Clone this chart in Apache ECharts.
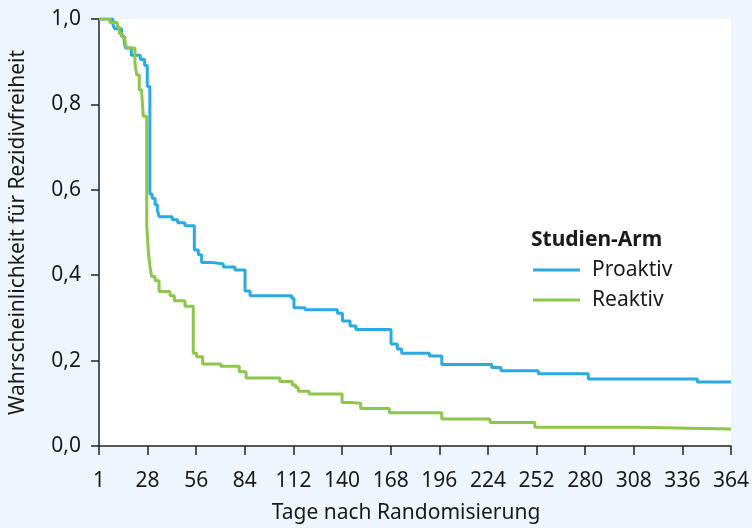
<!DOCTYPE html>
<html>
<head>
<meta charset="utf-8">
<script src="https://cdn.jsdelivr.net/npm/echarts@6/dist/echarts.min.js"></script>
<style>
html,body{margin:0;padding:0;background:#eef5fc;}
#chart{width:752px;height:528px;}
</style>
</head>
<body>
<div id="chart"></div>
<script>
const proaktivDays = [0, 8, 9, 13, 14.5, 15.2, 18.6, 23.8, 26.3, 27.8, 29.3, 30.6, 32.3, 33.6, 34.6, 42.2, 45.3, 49.5, 54.9, 57.2, 59.1, 64.9, 71.6, 78.3, 84.1, 87, 111, 112.3, 118.7, 137.3, 140.2, 144.6, 148, 168.2, 171.8, 174.3, 190.3, 197.4, 226.2, 231.5, 253, 281.8, 344.6, 364];
const proaktivSurv = [1.0, 0.987, 0.977, 0.959, 0.948, 0.932, 0.915, 0.905, 0.891, 0.842, 0.590, 0.580, 0.565, 0.553, 0.537, 0.530, 0.523, 0.516, 0.459, 0.448, 0.430, 0.426, 0.419, 0.412, 0.363, 0.352, 0.346, 0.324, 0.319, 0.311, 0.293, 0.281, 0.273, 0.239, 0.227, 0.217, 0.211, 0.191, 0.184, 0.176, 0.169, 0.157, 0.150, 0.150];
const reaktivDays = [0, 6.3, 10.5, 11.7, 13.4, 15, 15.9, 20.7, 21.7, 23.2, 24.6, 25.5, 27.5, 28.4, 29.4, 30.3, 32.3, 34.6, 40.9, 43.4, 49.5, 54.3, 56.2, 59.7, 70.1, 80.8, 84.7, 104.2, 111.3, 113.3, 114.8, 121, 140, 145, 150.7, 167.2, 197.4, 225.2, 251, 309.5, 364];
const reaktivSurv = [1.0, 0.992, 0.981, 0.966, 0.958, 0.946, 0.932, 0.897, 0.869, 0.834, 0.827, 0.772, 0.516, 0.455, 0.420, 0.397, 0.387, 0.362, 0.352, 0.340, 0.327, 0.217, 0.209, 0.192, 0.187, 0.174, 0.159, 0.151, 0.143, 0.137, 0.128, 0.122, 0.102, 0.100, 0.088, 0.078, 0.063, 0.055, 0.044, 0.040, 0.040];
const seriesNames = ['Proaktiv', 'Reaktiv'];
const xTickLabels = ['1', '28', '56', '84', '112', '140', '168', '196', '224', '252', '280', '308', '336', '364'];
const xAxisTitle = 'Tage nach Randomisierung';
const yAxisTitle = 'Wahrscheinlichkeit für Rezidivfreiheit';
const legendTitle = 'Studien-Arm';

const FONT = 'Noto Sans';
const TXT = '#1a1a1a';
const zip = (a, b) => a.map((d, i) => [d, b[i]]);

const chart = echarts.init(document.getElementById('chart'), null, {renderer: 'canvas'});
chart.setOption({
  backgroundColor: '#eef5fc',
  animation: false,
  textStyle: {fontFamily: FONT},
  title: {
    text: legendTitle,
    left: 531, top: 230, padding: 0,
    textStyle: {fontFamily: FONT, fontSize: 21, fontWeight: 'bold', color: TXT}
  },
  legend: {
    orient: 'vertical',
    left: 533, top: 259, padding: 0,
    icon: 'rect',
    itemWidth: 47, itemHeight: 3,
    itemGap: 8,
    data: seriesNames,
    textStyle: {fontFamily: FONT, fontSize: 21, color: TXT, lineHeight: 22, padding: [0, 0, 0, 7]}
  },
  grid: {
    left: 99, right: 21, top: 19, bottom: 82,
    containLabel: false, outerBoundsMode: 'none',
    show: true, backgroundColor: '#ffffff', borderWidth: 0
  },
  xAxis: {
    type: 'value', min: 0, max: 364, interval: 28,
    name: xAxisTitle, nameLocation: 'middle', nameGap: 57,
    nameTextStyle: {fontFamily: FONT, fontSize: 21, color: TXT, padding: [0, 18, 0, 0]},
    axisLine: {show: true, onZero: false, lineStyle: {color: '#222', width: 1.5}},
    axisTick: {show: true, length: 9, lineStyle: {color: '#222', width: 1.5}},
    axisLabel: {
      margin: 25, fontFamily: FONT, fontSize: 21, color: TXT,
      formatter: v => xTickLabels[Math.round(v / 28)]
    },
    splitLine: {show: false}
  },
  yAxis: {
    type: 'value', min: 0, max: 1, interval: 0.2,
    name: yAxisTitle, nameLocation: 'middle', nameGap: 70, nameRotate: 90,
    nameTextStyle: {fontFamily: FONT, fontSize: 21, color: TXT},
    axisLine: {show: true, lineStyle: {color: '#222', width: 1.5}},
    axisTick: {show: true, length: 8, lineStyle: {color: '#222', width: 1.5}},
    axisLabel: {
      margin: 18, fontFamily: FONT, fontSize: 21, color: TXT,
      formatter: v => v.toFixed(1).replace('.', ',')
    },
    splitLine: {show: false}
  },
  series: [
    {
      name: seriesNames[0], type: 'line', step: 'end', showSymbol: false, symbol: 'none',
      data: zip(proaktivDays, proaktivSurv),
      lineStyle: {color: '#2aaae2', width: 3},
      itemStyle: {color: '#2aaae2'}
    },
    {
      name: seriesNames[1], type: 'line', step: 'end', showSymbol: false, symbol: 'none',
      data: zip(reaktivDays, reaktivSurv),
      lineStyle: {color: '#8dc64b', width: 3},
      itemStyle: {color: '#8dc64b'}
    }
  ]
});
</script>
</body>
</html>
